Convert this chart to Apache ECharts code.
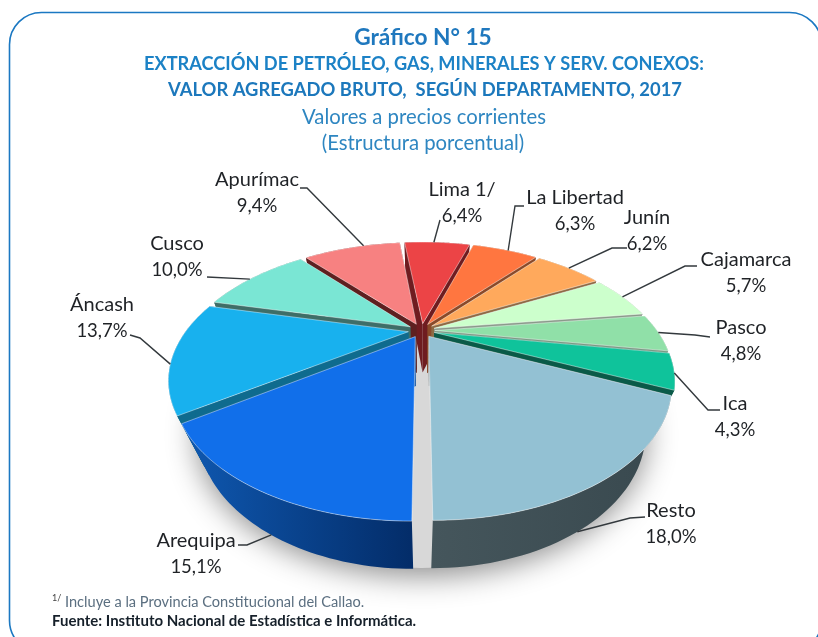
<!DOCTYPE html>
<html><head><meta charset="utf-8">
<style>html,body{margin:0;padding:0;background:#fff}#c{width:818px;height:637px;filter:blur(0.5px)}</style>
<script src="https://cdn.jsdelivr.net/npm/echarts@6/dist/echarts.min.js"></script>
</head><body><div id="c"></div>
<script>
const categories = ['Arequipa','Áncash','Cusco','Apurímac','Lima 1/','La Libertad','Junín','Cajamarca','Pasco','Ica','Resto'];
const shares = [15.1,13.7,10.0,9.4,6.4,6.3,6.2,5.7,4.8,4.3,18.0];
const topColors = ['#116FEA','#18B1EE','#7AE6D4','#F78181','#EC4446','#FF7640','#FFA95C','#CCFFCC','#90E0A8','#0FC39B','#93C1D3'];
const sideColors = ['#0A4E9E','#0F6B8E','#3E6E68','#5E2020','#6F1C20','#8A4A2A','#8E6A44','#8A9A8A','#7A9A84','#0A5A48','#3E4F55'];
const titleLines = ['Gráfico N° 15','EXTRACCIÓN DE PETRÓLEO, GAS, MINERALES Y SERV. CONEXOS:','VALOR AGREGADO BRUTO,  SEGÚN DEPARTAMENTO, 2017','Valores a precios corrientes','(Estructura porcentual)'];
const footnote = 'Incluye a la Provincia Constitucional del Callao.';
const source = 'Fuente: Instituto Nacional de Estadística e Informática.';

// label layout: label centre, elbow path, point on the slice rim (fraction of slice, depth)
const labelLayout = [
 {x:196,y:541,path:[[238,545],[247,545]],f:0.55,z:1},
 {x:102,y:305,path:[[130,335],[140,338]],f:0.42,z:0},
 {x:177,y:244,path:[[207,277]],f:0.45,z:0},
 {x:257,y:180,path:[[300,188],[307,188]],f:0.62,z:0},
 {x:462,y:190,path:[[440,220]],f:0.45,z:0},
 {x:575,y:198,path:[[524,206],[515,206]],f:0.55,z:0},
 {x:647,y:218,path:[[627,248],[612,248]],f:0.50,z:0},
 {x:746,y:260,path:[[697,266],[685,266]],f:0.50,z:0},
 {x:741,y:328,path:[[710,337],[695,335]],f:0.50,z:0},
 {x:735,y:404,path:[[720,410],[708,410]],f:0.55,z:0},
 {x:671,y:511,path:[[645,517],[630,518]],f:0.52,z:1}
];

const P = {cx:421.5,y0:330.4,A:222,B:114.3,C:54,k:0.35,m:0.10,e:0.06};
function proj(u,v,z){const w=1+P.k*v+P.m*z;return [P.cx+P.A*u/w,P.y0+(-P.B*v+P.C*z)/w];}
const total = shares.reduce((a,b)=>a+b,0);
let cum=0;
const slices = shares.map((s,i)=>{
  const a0=-Math.PI/2-cum/total*2*Math.PI; cum+=s;
  const a1=-Math.PI/2-cum/total*2*Math.PI;
  const mid=(a0+a1)/2;
  return {i,a0,a1,mid,ox:P.e*Math.cos(mid),oy:P.e*Math.sin(mid)};
});
function rim(sl,a,z){return proj(sl.ox+Math.cos(a),sl.oy+Math.sin(a),z);}
function arc(sl,z,rev){const n=40,p=[];for(let j=0;j<=n;j++){const t=rev?1-j/n:j/n;p.push(rim(sl,sl.a0+(sl.a1-sl.a0)*t,z));}return p;}
const rank = slices.slice().sort((a,b)=>Math.sin(b.mid)-Math.sin(a.mid)).map(s=>s.i);
const poly=(pts,style,z2)=>({type:'polygon',z2,shape:{points:pts},style});
function wallFill(i){
  if(i===0) return new echarts.graphic.LinearGradient(185,0,415,0,[{offset:0,color:'#0F58B0'},{offset:1,color:'#032C68'}],true);
  if(i===10) return new echarts.graphic.LinearGradient(430,0,640,0,[{offset:0,color:'#45565C'},{offset:1,color:'#3A4A50'}],true);
  return sideColors[i];
}
function renderItem(params,api){
  const i=api.value(0),sl=slices[i],base=rank.indexOf(i)*10;
  const apexT=proj(sl.ox,sl.oy,0),apexB=proj(sl.ox,sl.oy,1);
  const s0=[apexT,rim(sl,sl.a0,0),rim(sl,sl.a0,1),apexB];
  const s1=[apexT,rim(sl,sl.a1,0),rim(sl,sl.a1,1),apexB];
  const wall=arc(sl,0).concat(arc(sl,1,true));
  const top=[apexT].concat(arc(sl,0));
  return {type:'group',children:[
    poly(s0,{fill:i===0?'#D8D8D8':sideColors[i]},base+1),
    poly(s1,{fill:i===10?'#D8D8D8':sideColors[i]},base+1),
    poly(wall,{fill:wallFill(i)},base+2),
    poly(top,{fill:topColors[i],stroke:'rgba(255,255,255,0.55)',lineWidth:0.8},base+3)
  ]};
}
function shadowItem(){
  const n=120,p=[];
  for(let j=0;j<n;j++){const a=j/n*2*Math.PI;p.push(proj(1.05*Math.cos(a),1.05*Math.sin(a),1));}
  return {type:'group',children:[poly(p,{fill:'#D8D8D8',shadowBlur:30,shadowColor:'rgba(0,0,0,0.45)',shadowOffsetY:8},0)]};
}
function labelItem(params,api){
  const i=api.value(0),sl=slices[i],L=labelLayout[i];
  const end=rim(sl,sl.a0+(sl.a1-sl.a0)*L.f,L.z);
  const txt=(t,y,s)=>({type:'text',z2:900,style:{text:t,x:L.x,y,align:'center',verticalAlign:'middle',fill:'#1f2226',font:s+'px Lato, sans-serif'}});
  return {type:'group',children:[
    {type:'polyline',z2:800,shape:{points:L.path.concat([end])},style:{stroke:'#33393d',lineWidth:1.4,fill:null}},
    txt(categories[i],L.y,20),
    txt(shares[i].toFixed(1).replace('.',',')+'%',L.y+26,18.5)
  ]};
}
const idx=shares.map((_,i)=>[i]);
const titleTop=[33,59,85,112,138], titleSize=[22.7,18.2,18.4,20.3,20.3], titleWeight=['bold','bold','bold','normal','normal'];
const titleColor=['#1F78BE','#1C82C6','#1C78BC','#2E86C1','#2E86C1'];
const chart=echarts.init(document.getElementById('c'),null,{renderer:'canvas'});
chart.setOption({
  animation:false,
  backgroundColor:'#fff',
  title:titleLines.map((t,i)=>({text:t,left:[418,419,420,419,418][i],top:titleTop[i],textAlign:'center',textVerticalAlign:'middle',
     textStyle:{fontFamily:'Lato',fontSize:titleSize[i],fontWeight:titleWeight[i],color:titleColor[i]}})),
  graphic:[
    {type:'rect',z:-1,shape:{x:9.5,y:12.5,width:812,height:640,r:32},style:{fill:'#fff',stroke:'#1B78C2',lineWidth:1.6}},
    {type:'text',left:52,top:594,style:{text:'1/',fill:'#444',font:'9px Lato'}},
    {type:'text',left:65,top:595,style:{text:footnote,fill:'#5B6F80',font:'14.6px Lato'}},
    {type:'text',left:52,top:614,style:{text:source,fill:'#16202a',font:'bold 15px Lato'}}
  ],
  series:[
    {type:'custom',coordinateSystem:'none',z:1,silent:true,data:[[0]],renderItem:shadowItem},
    {type:'custom',coordinateSystem:'none',z:2,silent:true,data:idx,renderItem},
    {type:'custom',coordinateSystem:'none',z:3,silent:true,data:idx,renderItem:labelItem}
  ]
});
</script></body></html>
